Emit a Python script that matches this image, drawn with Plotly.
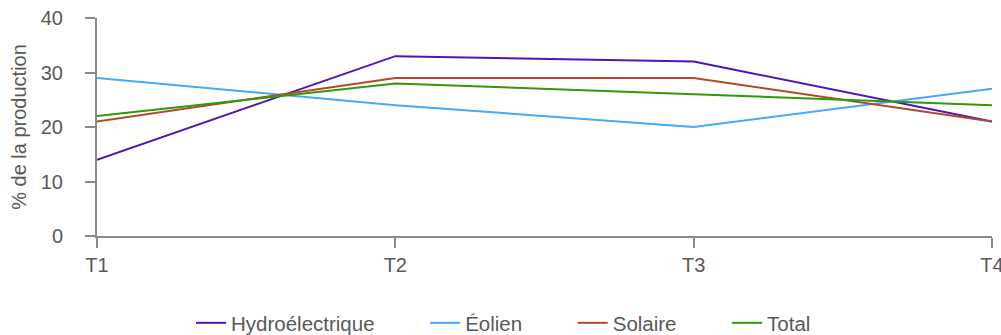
import plotly.graph_objects as go

quarters = ["T1", "T2", "T3", "T4"]
hydro = [14, 33, 32, 21]
eolien = [29, 24, 20, 27]
solaire = [21, 29, 29, 21]
total = [22, 28, 26, 24]

series = [
    ("Hydroélectrique", hydro, "#5014b8"),
    ("Éolien", eolien, "#45aaf8"),
    ("Solaire", solaire, "#b04a28"),
    ("Total", total, "#2f9a06"),
]

PAD = "\u00a0" * 8
fig = go.Figure()
for i, (name, vals, color) in enumerate(series):
    label = name + (PAD if i < len(series) - 1 else "")
    fig.add_trace(go.Scatter(x=quarters, y=vals, mode="lines", name=label,
                             line=dict(color=color, width=2)))

axis_common = dict(showline=True, linecolor="#8a8a8a", linewidth=2, showgrid=False,
                   zeroline=False, ticks="outside", tickcolor="#8a8a8a", tickwidth=2,
                   ticklen=10, ticklabeloverflow="allow",
                   tickfont=dict(size=20, color="#595959"))

fig.update_layout(
    width=1001, height=335,
    margin=dict(l=97, r=9, t=18, b=99, autoexpand=False),
    plot_bgcolor="white", paper_bgcolor="white",
    font=dict(family="Liberation Sans, Arial, sans-serif", size=20, color="#595959"),
    xaxis=dict(range=[0, 3], ticklabelstandoff=0, **axis_common),
    yaxis=dict(range=[0, 40], tickvals=[0, 10, 20, 30, 40], ticklabelstandoff=18,
               title=dict(text="% de la production", font=dict(size=20, color="#595959"), standoff=9),
               **axis_common),
    legend=dict(orientation="h", xref="container", x=0.503, xanchor="center",
                yref="container", y=0.0358, yanchor="middle",
                font=dict(size=20.5, color="#595959")),
    showlegend=True,
)

fig.write_html("out.html", config={"displayModeBar": False},
               post_script="document.body.style.margin='0';")
